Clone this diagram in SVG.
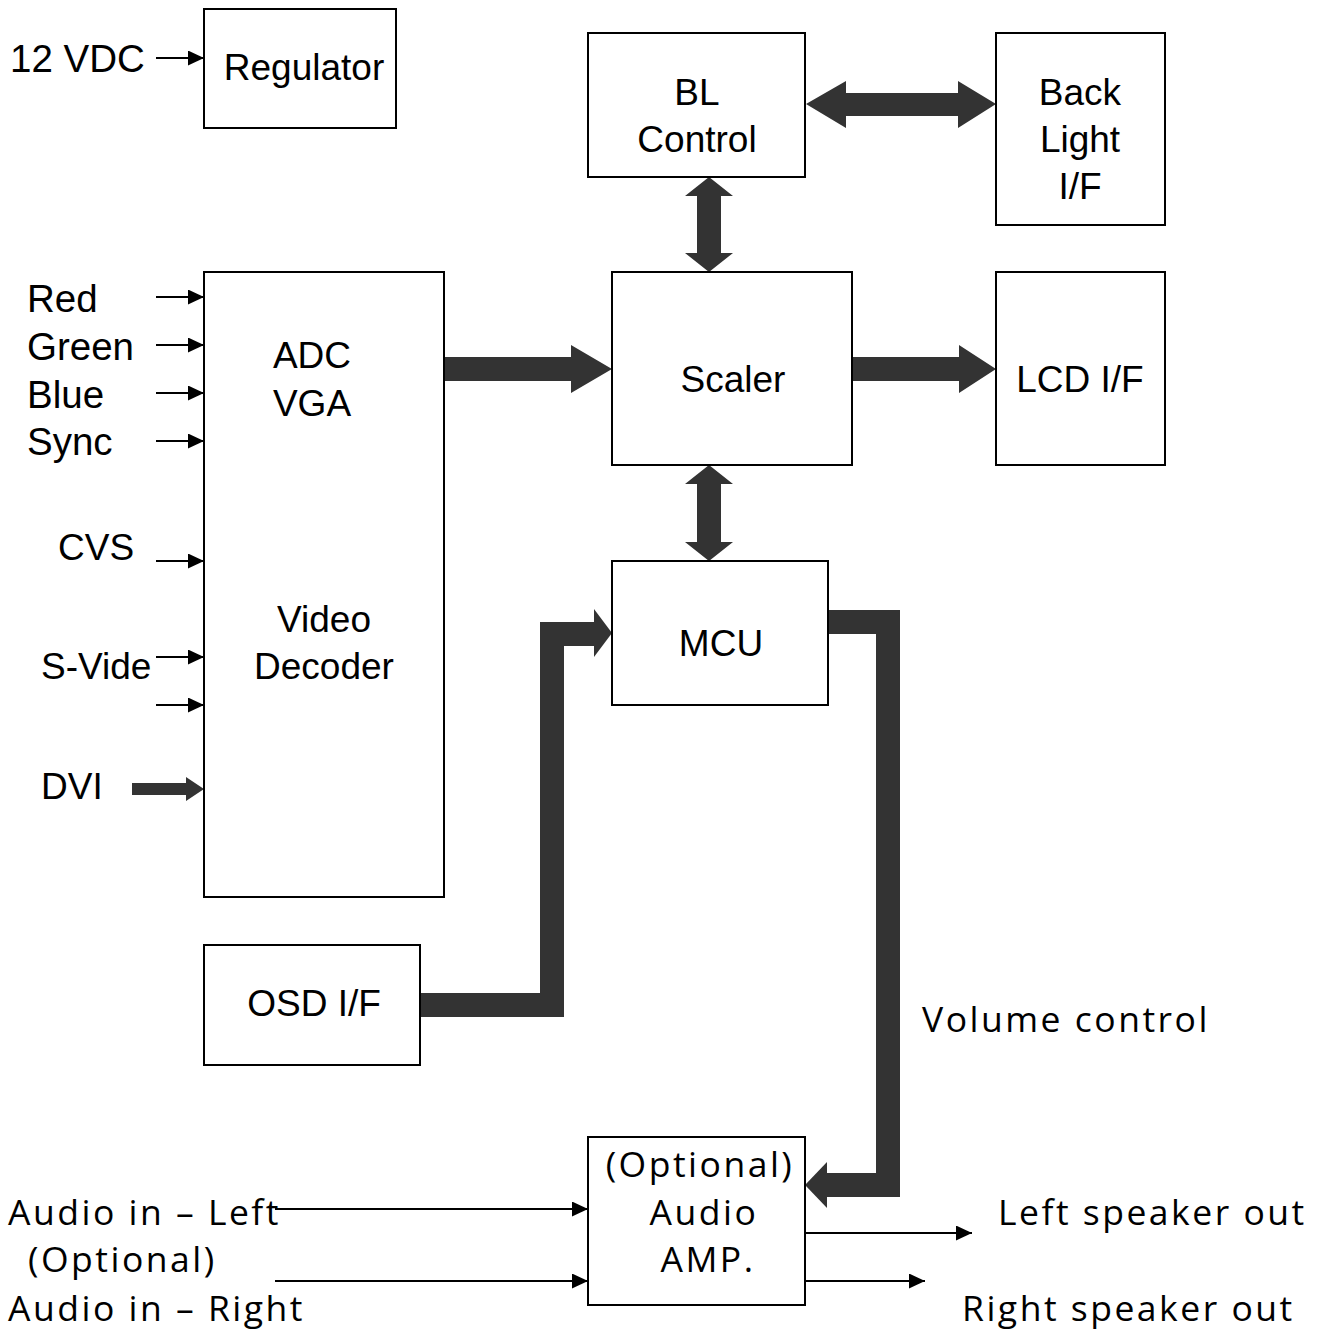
<svg xmlns="http://www.w3.org/2000/svg" width="1320" height="1334" viewBox="0 0 1320 1334">
<defs>
<style>
.box{fill:#fff;stroke:#000;stroke-width:2}
.t{font-family:"Liberation Sans",Arial,sans-serif;font-size:37px;fill:#000}
.m{text-anchor:middle}
.in{font-family:"Liberation Sans",Arial,sans-serif;font-size:38.5px;fill:#000}
.h{font-family:"Open Sans","Noto Sans",sans-serif;font-size:35.5px;letter-spacing:2.5px;fill:#000}
.thin{stroke:#000;stroke-width:2;fill:none}
.fat{fill:#333}
.fatl{stroke:#333;stroke-width:24;fill:none;stroke-linejoin:miter}
</style>
<marker id="ah" markerWidth="16" markerHeight="15" refX="16" refY="7.5" orient="auto" markerUnits="userSpaceOnUse"><path d="M0,0 L16,7.5 L0,15 z" fill="#000"/></marker>
</defs>
<rect width="1320" height="1334" fill="#fff"/>

<g id="connectors">
<line class="thin" x1="156" y1="58" x2="204" y2="58" marker-end="url(#ah)"/>
<line class="thin" x1="156" y1="297" x2="204" y2="297" marker-end="url(#ah)"/>
<line class="thin" x1="156" y1="345" x2="204" y2="345" marker-end="url(#ah)"/>
<line class="thin" x1="156" y1="393" x2="204" y2="393" marker-end="url(#ah)"/>
<line class="thin" x1="156" y1="441" x2="204" y2="441" marker-end="url(#ah)"/>
<line class="thin" x1="156" y1="561" x2="204" y2="561" marker-end="url(#ah)"/>
<line class="thin" x1="156" y1="657" x2="204" y2="657" marker-end="url(#ah)"/>
<line class="thin" x1="156" y1="705" x2="204" y2="705" marker-end="url(#ah)"/>
<polygon class="fat" points="132,783 186,783 186,777 204,789 186,801 186,795 132,795"/>
<polygon class="fat" points="806,104 846,81 846,93 958,93 958,81 996,104 958,128 958,116 846,116 846,128"/>
<polygon class="fat" points="709,177 733,196 721,196 721,253 733,253 709,272 685,253 697,253 697,196 685,196"/>
<polygon class="fat" points="709,465 733,484 721,484 721,542 733,542 709,561 685,542 697,542 697,484 685,484"/>
<polygon class="fat" points="444,357 571,357 571,345 612,369 571,393 571,381 444,381"/>
<polygon class="fat" points="852,357 959,357 959,345 996,369 959,393 959,381 852,381"/>
<polyline class="fatl" points="420,1005 552,1005 552,634 596,634"/>
<polygon class="fat" points="594,609 612,633 594,657"/>
<polyline class="fatl" points="828,622 888,622 888,1185 825,1185"/>
<polygon class="fat" points="827,1162 805,1185 827,1208"/>
<line class="thin" x1="275" y1="1209" x2="588" y2="1209" marker-end="url(#ah)"/>
<line class="thin" x1="275" y1="1281" x2="588" y2="1281" marker-end="url(#ah)"/>
<line class="thin" x1="805" y1="1233" x2="972" y2="1233" marker-end="url(#ah)"/>
<line class="thin" x1="805" y1="1281" x2="925" y2="1281" marker-end="url(#ah)"/>
</g>

<g id="regulator"><rect class="box" x="204" y="9" width="192" height="119"/><text class="t m" x="304" y="80">Regulator</text></g>
<g id="bl-control"><rect class="box" x="588" y="33" width="217" height="144"/><text class="t m" x="697" y="105">BL</text><text class="t m" x="697" y="152">Control</text></g>
<g id="back-light"><rect class="box" x="996" y="33" width="169" height="192"/><text class="t m" x="1080" y="105">Back</text><text class="t m" x="1080" y="152">Light</text><text class="t m" x="1080" y="199">I/F</text></g>
<g id="adc-video"><rect class="box" x="204" y="272" width="240" height="625"/><text class="t m" x="312" y="368">ADC</text><text class="t m" x="312" y="416">VGA</text><text class="t m" x="324" y="632">Video</text><text class="t m" x="324" y="679">Decoder</text></g>
<g id="scaler"><rect class="box" x="612" y="272" width="240" height="193"/><text class="t m" x="733" y="392">Scaler</text></g>
<g id="lcd"><rect class="box" x="996" y="272" width="169" height="193"/><text class="t m" x="1080" y="392">LCD I/F</text></g>
<g id="mcu"><rect class="box" x="612" y="561" width="216" height="144"/><text class="t m" x="721" y="656">MCU</text></g>
<g id="osd"><rect class="box" x="204" y="945" width="216" height="120"/><text class="t m" x="314" y="1016">OSD I/F</text></g>
<g id="audio-amp"><rect class="box" x="588" y="1137" width="217" height="168"/><text class="h m" x="700" y="1177">(Optional)</text><text class="h m" x="704" y="1225">Audio</text><text class="h m" x="708" y="1272">AMP.</text></g>

<g id="labels">
<text class="in" x="10" y="72">12 VDC</text>
<text class="in" x="27" y="312">Red</text>
<text class="in" x="27" y="360">Green</text>
<text class="in" x="27" y="408">Blue</text>
<text class="in" x="27" y="455">Sync</text>
<text class="t" x="58" y="560">CVS</text>
<text class="t" x="41" y="679">S-Vide</text>
<text class="t" x="41" y="799">DVI</text>
<text class="h" x="922" y="1032">Volume control</text>
<text class="h" x="8" y="1225">Audio in – Left</text>
<text class="h" x="28" y="1272">(Optional)</text>
<text class="h" x="8" y="1321">Audio in – Right</text>
<text class="h" x="998" y="1225">Left speaker out</text>
<text class="h" x="962" y="1321">Right speaker out</text>
</g>
</svg>
